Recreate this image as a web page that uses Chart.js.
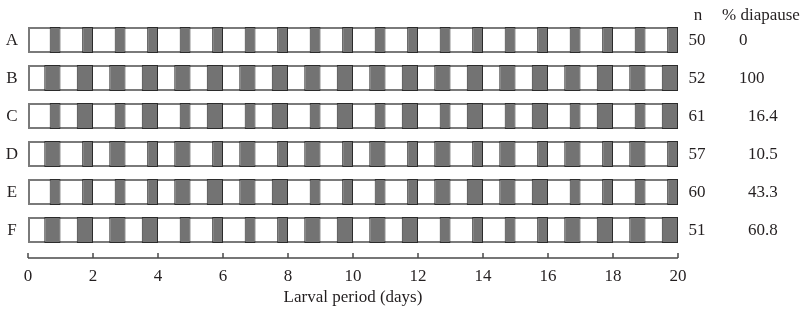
<!DOCTYPE html>
<html>
<head>
<meta charset="utf-8">
<script src="https://cdn.jsdelivr.net/npm/chart.js@4.4.1/dist/chart.umd.min.js"></script>
<style>
  html, body { margin: 0; padding: 0; background: #fff; }
  #wrap { width: 807px; height: 320px; position: relative; }
</style>
</head>
<body>
<div id="wrap"><canvas id="chart"></canvas></div>
<script>
const rows = ["A", "B", "C", "D", "E", "F"];
const sampleSizes = [50, 52, 61, 57, 60, 51];
const diapausePct = ["0", "100", "16.4", "10.5", "43.3", "60.8"];

// photoperiod for each of the 20 days: L = 16L:8D, S = 12L:12D
const scheduleA = ["L","L","L","L","L","L","L","L","L","L","L","L","L","L","L","L","L","L","L","L"];
const scheduleB = ["S","S","S","S","S","S","S","S","S","S","S","S","S","S","S","S","S","S","S","S"];
const scheduleC = ["L","S","L","S","L","S","L","S","L","S","L","S","L","S","L","S","L","S","L","S"];
const scheduleD = ["S","L","S","L","S","L","S","L","S","L","S","L","S","L","S","L","S","L","S","L"];
const scheduleE = ["L","L","L","L","S","S","S","S","L","L","L","L","S","S","S","S","L","L","L","L"];
const scheduleF = ["S","S","S","S","L","L","L","L","S","S","S","S","L","L","L","L","S","S","S","S"];
const schedules = [scheduleA, scheduleB, scheduleC, scheduleD, scheduleE, scheduleF];

const darkHours = { L: 8, S: 12 };
const totalDays = 20;

const FONT = '"Liberation Serif", "DejaVu Serif", serif';
const INK = "#231f20";

// one floating bar per day: the dark phase closes each day
const darkSets = schedules[0].map((_, i) => ({
  data: schedules.map((s) => [i + 1 - darkHours[s[i]] / 24, i + 1]),
  backgroundColor: "#737373",
  borderColor: "#2b2b2b",
  borderWidth: 1,
  borderSkipped: false,
  grouped: false,
  barPercentage: 0.68,
  categoryPercentage: 1,
}));

const frameSet = {
  data: rows.map(() => [0, totalDays]),
  backgroundColor: "#ffffff",
  borderColor: "#7a7a7a",
  borderWidth: 2,
  borderSkipped: false,
  grouped: false,
  barPercentage: 0.68,
  categoryPercentage: 1,
};

const sideText = {
  id: "sideText",
  afterDraw(chart) {
    const { ctx, scales } = chart;
    const y = scales.y;
    ctx.save();
    ctx.fillStyle = INK;
    ctx.font = "17px " + FONT;
    ctx.textBaseline = "middle";

    ctx.textAlign = "center";
    ctx.fillText("n", 698, 16);
    ctx.textAlign = "left";
    ctx.fillText("% diapause", 722, 16);

    rows.forEach((r, i) => {
      const py = y.getPixelForValue(i) + 1;
      ctx.textAlign = "center";
      ctx.fillText(r, 12, py);
      ctx.fillText(String(sampleSizes[i]), 697, py);
      ctx.textAlign = "left";
      const pct = diapausePct[i];
      ctx.fillText(pct, pct.includes(".") ? 748 : 739, py);
    });
    ctx.restore();
  },
};

// day axis sits a little below the bars, tick marks pointing up
const dayAxis = {
  id: "dayAxis",
  afterDraw(chart) {
    const { ctx, scales, chartArea } = chart;
    const x = scales.x;
    const ay = chartArea.bottom + 9;
    ctx.save();
    ctx.strokeStyle = "#4a4a4a";
    ctx.lineWidth = 1.5;
    ctx.beginPath();
    ctx.moveTo(x.getPixelForValue(0), ay);
    ctx.lineTo(x.getPixelForValue(totalDays), ay);
    x.ticks.forEach((t) => {
      const px = x.getPixelForValue(t.value);
      ctx.moveTo(px, ay);
      ctx.lineTo(px, ay - 5);
    });
    ctx.stroke();
    ctx.restore();
  },
};

new Chart(document.getElementById("chart"), {
  type: "bar",
  data: {
    labels: rows,
    datasets: [...darkSets, frameSet],
  },
  options: {
    indexAxis: "y",
    responsive: true,
    maintainAspectRatio: false,
    animation: false,
    layout: {
      padding: { left: 28, right: 129, top: 21, bottom: 12 },
    },
    plugins: {
      legend: { display: false },
      tooltip: { enabled: false },
    },
    scales: {
      y: {
        display: false,
        offset: true,
      },
      x: {
        type: "linear",
        min: 0,
        max: totalDays,
        grid: { display: false, drawTicks: false },
        border: { display: false },
        afterFit(scale) {
          scale.height = 59;
        },
        ticks: {
          stepSize: 2,
          padding: 17,
          color: INK,
          font: { family: FONT, size: 17 },
          maxRotation: 0,
        },
        title: {
          display: true,
          text: "Larval period (days)",
          color: INK,
          font: { family: FONT, size: 17 },
          padding: { top: 3, bottom: 0 },
        },
      },
    },
  },
  plugins: [sideText, dayAxis],
});
</script>
</body>
</html>
